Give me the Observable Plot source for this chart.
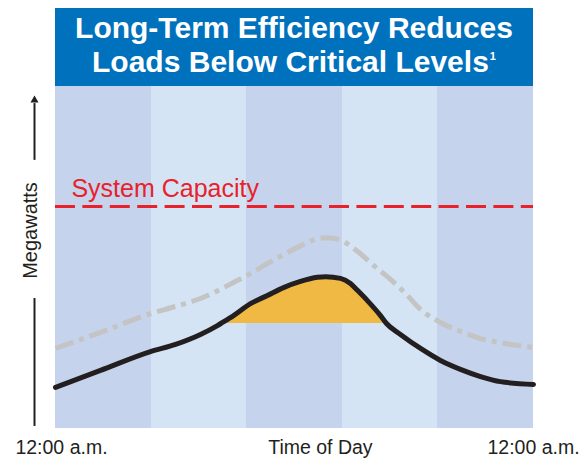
<!DOCTYPE html>
<html><head><meta charset="utf-8">
<script src="https://cdn.jsdelivr.net/npm/d3@7"></script>
<script src="https://cdn.jsdelivr.net/npm/@observablehq/plot@0.6"></script>
<style>
body{margin:0;background:#fff;}
#wrap{position:relative;width:588px;height:458px;overflow:hidden;font-family:"Liberation Sans",Arial,sans-serif;}
#title{position:absolute;left:55px;top:8px;width:478px;height:78px;background:#0071bc;color:#fff;font-weight:bold;font-size:30px;line-height:34px;text-align:center;padding-top:3.4px;box-sizing:border-box;}
#title sup{font-size:11px;vertical-align:0;position:relative;top:-12px;margin-left:1px;}
#chart{position:absolute;left:0;top:86px;}
</style></head>
<body>
<div id="wrap">
  <div id="title">Long-Term Efficiency Reduces<br>Loads Below Critical Levels<sup>1</sup></div>
  <div id="chart"></div>
</div>
<script>
// Time of day in hours (0 = midnight, 24 = next midnight)
const loadHours = [0, 2.26, 4.77, 6.03, 7.28, 8.13, 8.3, 8.94, 9.79, 10.64, 11.45, 12.30, 13.15, 13.56, 14.31, 14.81, 15.16, 15.66, 16.32, 16.62, 17.32, 18.33, 19.33, 20.33, 21.34, 22.34, 24];
// Load with long-term efficiency (black), relative megawatts
const loadMW = [12.0, 17.0, 22.5, 24.6, 27.5, 30.1, 30.7, 33.0, 36.5, 38.9, 41.2, 43.0, 44.2, 44.4, 43.9, 42.4, 40.4, 37.4, 33.0, 30.7, 27.5, 23.4, 19.9, 17.3, 15.2, 13.7, 12.9];
// Load without efficiency (gray dash-dot)
const baseHours = [0, 2.26, 4.77, 6.03, 7.28, 8.94, 9.79, 10.64, 12.30, 12.9, 13.65, 14.31, 15.16, 15.97, 16.82, 17.67, 18.33, 19.33, 20.33, 21.34, 22.34, 24];
const baseMW = [23.4, 28.1, 33.6, 35.7, 38.0, 42.7, 45.3, 48.2, 53.4, 55.0, 55.8, 55.1, 51.8, 47.7, 43.6, 38.9, 34.8, 31.0, 28.4, 26.3, 25.1, 23.7];

const capacity = 64.9;          // system capacity level
const peakLimit = 30.7;         // level above which load is shaded
const capacityLabel = "System Capacity";
const capacityLabelHour = 0.8;

const bandStarts = [0, 4.8, 9.6, 14.4, 19.2];
const bandEnds = [4.8, 9.6, 14.4, 19.2, 24];
const bandShade = ["dark", "light", "dark", "light", "dark"];

const xTickHours = [0.3, 13.3, 24];
const xTickLabels = ["12:00 a.m.", "Time of Day", "12:00 a.m."];

const yLabel = "Megawatts";
const yLabelAt = 57.9;
const yArrowSpan = [78.4, 95];
const yArrowTip = 96.0;
const yStemSpan = [0.6, 38.0];

const load = loadHours.map((h, i) => ({h, v: loadMW[i]}));
const base = baseHours.map((h, i) => ({h, v: baseMW[i]}));
const bands = bandStarts.map((s, i) => ({x1: s, x2: bandEnds[i], shade: bandShade[i]}));

const ink = "#231f20";
const axisDx = -21;

const chart = Plot.plot({
  width: 588,
  height: 372,
  marginTop: 0,
  marginBottom: 30,
  marginLeft: 55,
  marginRight: 55,
  style: {fontFamily: "'Liberation Sans', Arial, sans-serif", background: "transparent", color: ink},
  x: {domain: [0, 24], label: null},
  y: {domain: [0, 100], axis: null, label: null},
  color: {domain: ["dark", "light"], range: ["#c5d3ec", "#d4e4f5"]},
  marks: [
    Plot.rect(bands, {x1: "x1", x2: "x2", y1: 0, y2: 100, fill: "shade", shapeRendering: "crispEdges"}),
    Plot.areaY(load, {x: "h", y1: 0, y2: "v", curve: "monotone-x", fill: "#f0b944"}),
    Plot.rect(bands, {x1: "x1", x2: "x2", y1: 0, y2: peakLimit, fill: "shade", shapeRendering: "crispEdges"}),
    Plot.line(base, {x: "h", y: "v", curve: "monotone-x", stroke: "#c4c4c4", strokeWidth: 5, strokeDasharray: "19,6,5,6", strokeLinecap: "butt"}),
    Plot.line(load, {x: "h", y: "v", curve: "monotone-x", stroke: ink, strokeWidth: 5}),
    Plot.ruleY([capacity], {stroke: "#e8212a", strokeWidth: 3, strokeDasharray: "20,7.4"}),
    Plot.text([capacityLabel], {x: capacityLabelHour, y: capacity, text: d => d, textAnchor: "start", lineAnchor: "bottom", dy: -10, fill: "#e8212a", fontSize: 25}),
    Plot.ruleX([0], {y1: yArrowSpan[0], y2: yArrowSpan[1], dx: axisDx, stroke: ink, strokeWidth: 2}),
    Plot.dot([0], {x: d => d, y: yArrowTip, symbol: "triangle", r: 3, fill: ink, stroke: "none", dx: axisDx}),
    Plot.ruleX([0], {y1: yStemSpan[0], y2: yStemSpan[1], dx: axisDx, stroke: ink, strokeWidth: 2}),
    Plot.text([yLabel], {x: 0, y: yLabelAt, text: d => d, rotate: -90, dx: -25, fontSize: 20, fill: ink}),
    Plot.axisX(xTickHours, {tickSize: 0, tickPadding: 12, fontSize: 19.5, fill: ink, label: null, tickFormat: d => xTickLabels[xTickHours.indexOf(d)]})
  ]
});
document.getElementById("chart").appendChild(chart);
</script>
</body></html>
